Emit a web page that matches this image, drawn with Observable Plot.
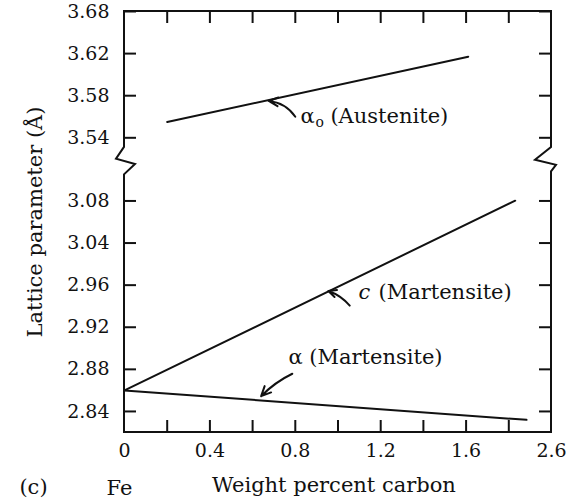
<!DOCTYPE html>
<html>
<head>
<meta charset="utf-8">
<script src="https://cdn.jsdelivr.net/npm/d3@7"></script>
<script src="https://cdn.jsdelivr.net/npm/@observablehq/plot@0.6"></script>
<style>
  html, body { margin: 0; padding: 0; background: #fff; }
</style>
</head>
<body>
<div id="chart"></div>
<script>
// ---- data ----
const xTicks = [0, 0.4, 0.8, 1.2, 1.6, 2.0];
const xTickLabels = ["0", "0.4", "0.8", "1.2", "1.6", "2.6"];
const xMinorTicks = [0.2, 0.4, 0.6, 0.8, 1.0, 1.2, 1.4, 1.6, 1.8];
const yTicks = [3.68, 3.62, 3.58, 3.54, 3.08, 3.04, 2.96, 2.92, 2.88, 2.84];
// broken (piecewise) y axis: knot values and their slot (tick-step) positions from top
const yKnots = [2.82, 2.84, 2.96, 3.04, 3.08, 3.54, 3.62, 3.68];
const ySlots = [10, 9.5, 6.5, 5.5, 4.5, 3, 1, 0];
const yBreak = [3.47, 3.27];

const austeniteX = [0.2, 1.61];
const austeniteY = [3.555, 3.617];
const cMartX = [0, 1.83];
const cMartY = [2.86, 3.082];
const aMartX = [0, 1.883];
const aMartY = [2.86, 2.832];

const labelNames = ["α", "o", "(Austenite)", "c", "(Martensite)", "α (Martensite)"];
const arrowsX1 = [0.80, 1.055, 0.786];
const arrowsY1 = [3.560, 2.9406, 2.8758];
const arrowsX2 = [0.675, 0.955, 0.64];
const arrowsY2 = [3.575, 2.9545, 2.8545];

// ---- layout ----
const width = 566, height = 504;
const marginLeft = 124, marginRight = 15, marginTop = 11, marginBottom = 72;
const frameW = width - marginLeft - marginRight;
const frameH = height - marginTop - marginBottom;
const step = frameH / 10;
const tickLen = 12;

const toPts = (xs, ys) => xs.map((x, i) => ({x, y: ys[i]}));
const austenite = toPts(austeniteX, austeniteY);
const cMart = toPts(cMartX, cMartY);
const aMart = toPts(aMartX, aMartY);
const arrows = arrowsX1.map((x1, i) => ({x1, y1: arrowsY1[i], x2: arrowsX2[i], y2: arrowsY2[i]}));

const font = "DejaVu Serif";

function brokenFrame(index, scales, values, dims) {
  const {y} = scales;
  const L = dims.marginLeft, R = dims.width - dims.marginRight;
  const T = dims.marginTop, B = dims.height - dims.marginBottom;
  const b1 = y(yBreak[0]), b2 = y(yBreak[1]);
  const h = b2 - b1;
  const p = d3.path();
  // left side
  p.moveTo(L, T); p.lineTo(L, b1);
  p.lineTo(L - 8, b1 + 0.43 * h); p.lineTo(L + 11, b1 + 0.62 * h); p.lineTo(L, b2); p.lineTo(L, B);
  // bottom
  p.lineTo(R, B);
  // right side
  p.lineTo(R, b2 - 3);
  p.lineTo(R + 5, b1 + 0.65 * h); p.lineTo(R - 16, b1 + 0.47 * h); p.lineTo(R, b1); p.lineTo(R, T);
  p.closePath();
  const g = d3.create("svg:g");
  g.append("path").attr("d", p.toString()).attr("fill", "none")
    .attr("stroke", "#111").attr("stroke-width", 2).attr("stroke-linejoin", "miter");
  return g.node();
}

const chart = Plot.plot({
  width, height, marginLeft, marginRight, marginTop, marginBottom,
  style: {fontFamily: font, fontSize: "19px", color: "#111", background: "#fff"},
  x: {type: "linear", domain: [0, 2.0], label: null},
  y: {type: "linear", domain: yKnots, range: ySlots.map(s => marginTop + s * step), label: null},
  marks: [
    brokenFrame,
    // inward ticks
    Plot.tickX(xMinorTicks, {x: d => d, insetTop: frameH - tickLen, stroke: "#111", strokeWidth: 2}),
    Plot.tickX(xMinorTicks, {x: d => d, insetBottom: frameH - tickLen, stroke: "#111", strokeWidth: 2}),
    Plot.tickY(yTicks, {y: d => d, insetRight: frameW - tickLen, stroke: "#111", strokeWidth: 2}),
    Plot.tickY(yTicks, {y: d => d, insetLeft: frameW - tickLen, stroke: "#111", strokeWidth: 2}),
    // axes labels
    Plot.axisX(xTicks, {tickSize: 0, tickPadding: 11, tickFormat: d => xTickLabels[xTicks.indexOf(d)], fontSize: 19, label: null}),
    Plot.axisY(yTicks, {tickSize: 0, tickPadding: 15, tickFormat: d => d.toFixed(2), fontSize: 19, label: null}),
    // data lines
    Plot.line(austenite, {x: "x", y: "y", stroke: "#111", strokeWidth: 2}),
    Plot.line(cMart, {x: "x", y: "y", stroke: "#111", strokeWidth: 2}),
    Plot.line(aMart, {x: "x", y: "y", stroke: "#111", strokeWidth: 2}),
    // annotation arrows
    Plot.arrow(arrows.slice(0, 1), {x1: "x1", y1: "y1", x2: "x2", y2: "y2", bend: -25, headLength: 8, headAngle: 50, stroke: "#111", strokeWidth: 2}),
    Plot.arrow(arrows.slice(1, 2), {x1: "x1", y1: "y1", x2: "x2", y2: "y2", bend: -15, headLength: 8, headAngle: 50, stroke: "#111", strokeWidth: 2}),
    Plot.arrow(arrows.slice(2, 3), {x1: "x1", y1: "y1", x2: "x2", y2: "y2", bend: -10, headLength: 8, headAngle: 50, stroke: "#111", strokeWidth: 2}),
    // annotation labels
    Plot.text([labelNames[0]], {x: () => 0.824, y: () => 3.5608, textAnchor: "start", fontSize: 21, fill: "#111"}),
    Plot.text([labelNames[1]], {x: () => 0.824, y: () => 3.5608, textAnchor: "start", dx: 15, dy: 7, fontSize: 14, fill: "#111"}),
    Plot.text([labelNames[2]], {x: () => 0.824, y: () => 3.5608, textAnchor: "start", dx: 30, fontSize: 21, fill: "#111"}),
    Plot.text([labelNames[3]], {x: () => 1.096, y: () => 2.953, textAnchor: "start", fontSize: 21, fontStyle: "italic", fill: "#111"}),
    Plot.text([labelNames[4]], {x: () => 1.096, y: () => 2.953, textAnchor: "start", dx: 20, fontSize: 21, fill: "#111"}),
    Plot.text([labelNames[5]], {x: () => 0.768, y: () => 2.8913, textAnchor: "start", fontSize: 21, fill: "#111"}),
    // axis titles and panel notes
    Plot.text(["Lattice parameter (Å)"], {frameAnchor: "left", textAnchor: "middle", dx: -89, rotate: -90, fontSize: 21, fill: "#111"}),
    Plot.text(["Weight percent carbon"], {frameAnchor: "bottom", textAnchor: "middle", dx: -4, dy: 59, fontSize: 21, fill: "#111"}),
    Plot.text(["(c)"], {frameAnchor: "bottom-left", textAnchor: "middle", dx: -91, dy: 61, fontSize: 21, fill: "#111"}),
    Plot.text(["Fe"], {frameAnchor: "bottom-left", textAnchor: "middle", dx: -5, dy: 62, fontSize: 21, fill: "#111"})
  ]
});
document.getElementById("chart").appendChild(chart);
</script>
</body>
</html>
